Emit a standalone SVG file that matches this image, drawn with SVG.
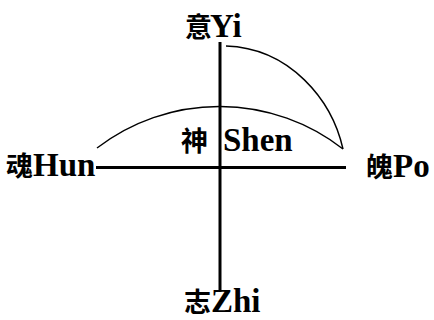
<svg xmlns="http://www.w3.org/2000/svg" width="434" height="320" viewBox="0 0 434 320">
<style>
.lbl{font-family:"Liberation Serif","Noto Sans CJK SC",serif;font-weight:bold;font-size:33px;fill:#000}
.cjk{font-family:"Noto Sans CJK SC",sans-serif;font-size:27px}
.axis{stroke:#000;stroke-width:3;fill:none}
.arc{stroke:#000;stroke-width:1.4;fill:none}
</style>
<rect width="434" height="320" fill="#fff"/>
<g id="connectors">
<line class="axis" x1="96" y1="167.5" x2="346" y2="167.5"/>
<line class="axis" x1="220" y1="42" x2="220" y2="292"/>
<path class="arc" d="M226,46 C290,48 332,100 343,149"/>
<path class="arc" d="M97,148 A201,201 0 0 1 343,149"/>
</g>
<g id="yi"><text class="lbl" x="185" y="37"><tspan class="cjk" font-size="24">意</tspan><tspan x="210">Yi</tspan></text></g>
<g id="hun"><text class="lbl" x="6" y="176"><tspan class="cjk">魂</tspan><tspan x="33">Hun</tspan></text></g>
<g id="po"><text class="lbl" x="366" y="177"><tspan class="cjk">魄</tspan><tspan x="393">Po</tspan></text></g>
<g id="zhi"><text class="lbl" x="184" y="312"><tspan class="cjk">志</tspan><tspan x="211">Zhi</tspan></text></g>
<g id="shen"><text class="lbl" x="181" y="151"><tspan class="cjk">神</tspan><tspan x="223">Shen</tspan></text></g>
</svg>
